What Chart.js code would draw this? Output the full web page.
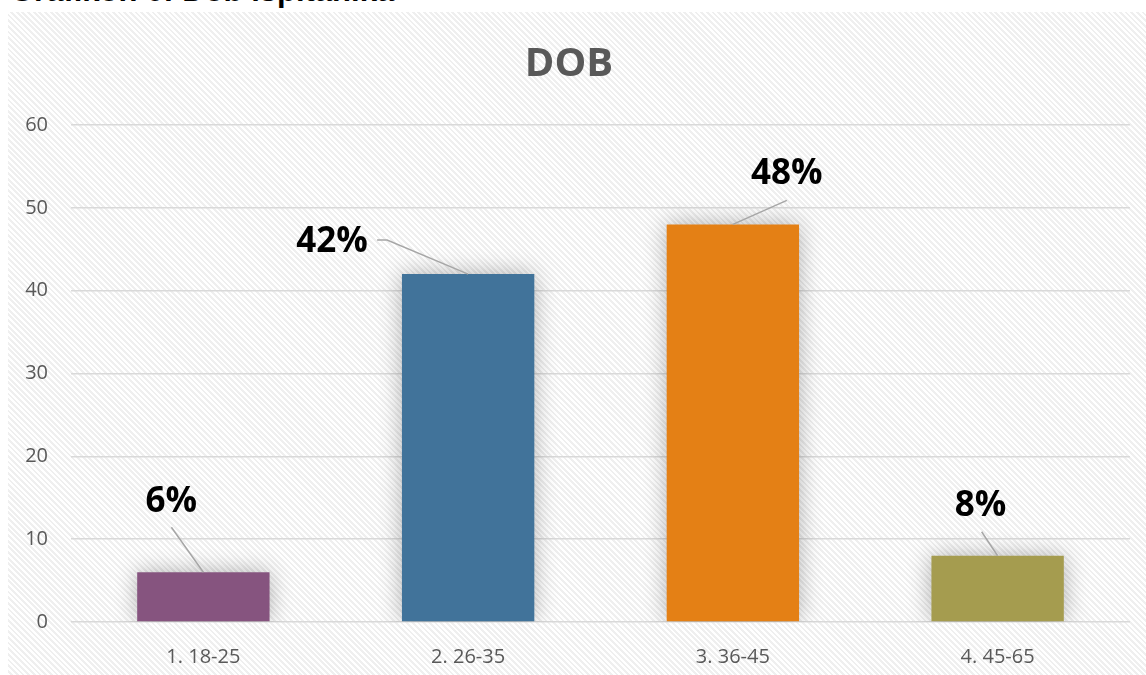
<!DOCTYPE html>
<html>
<head>
<meta charset="utf-8">
<script src="https://cdn.jsdelivr.net/npm/chart.js@4.4.0/dist/chart.umd.min.js"></script>
<style>
    html, body { margin: 0; padding: 0; background: #fff; overflow: hidden; }
    body { width: 1146px; height: 675px; position: relative; }
    #caption {
        position: absolute; left: 10px; top: -25px;
        font: bold 31px "Liberation Sans", Arial, sans-serif;
        line-height: 31px; color: #000; white-space: nowrap;
    }
    #wrap {
        position: absolute; left: 8px; top: 12px; width: 1138px; height: 663px;
        background: repeating-linear-gradient(45deg, #ffffff 0 2px, #efefef 2px 4px);
    }
</style>
</head>
<body>
<div id="caption">Grafikon 6: Dob ispitanika</div>
<div id="wrap"><canvas id="dobChart" width="1138" height="663"></canvas></div>
<script>
const categories = ['1. 18-25', '2. 26-35', '3. 36-45', '4. 45-65'];
const values = [6, 42, 48, 8];
const valueLabels = ['6%', '42%', '48%', '8%'];
const barColors = ['#86547f', '#41739a', '#e48015', '#a59c4f'];
const yTicks = [0, 10, 20, 30, 40, 50, 60];

// where each label sits relative to the top of its bar, with its leader line
const labelSpots = [
    { tx: -32, ty: -70, line: [[-32, -45], [0, 0]] },
    { tx: -136, ty: -32, line: [[-91, -34], [-81, -34], [0, 0]] },
    { tx: 54, ty: -50, line: [[54, -24], [0, 0]] },
    { tx: -17, ty: -50, line: [[-16, -24], [0, 0]] }
];

const barShadow = {
    id: 'barShadow',
    beforeDatasetsDraw(chart) {
        const ctx = chart.ctx;
        ctx.save();
        ctx.shadowColor = 'rgba(0,0,0,0.3)';
        ctx.shadowBlur = 22;
    },
    afterDatasetsDraw(chart) {
        chart.ctx.restore();
    }
};

const calloutLabels = {
    id: 'calloutLabels',
    afterDatasetsDraw(chart) {
        const ctx = chart.ctx;
        const meta = chart.getDatasetMeta(0);
        ctx.save();
        meta.data.forEach((bar, i) => {
            const spot = labelSpots[i];
            ctx.strokeStyle = '#a6a6a6';
            ctx.lineWidth = 1.5;
            ctx.beginPath();
            spot.line.forEach((p, j) => {
                if (j === 0) ctx.moveTo(bar.x + p[0], bar.y + p[1]);
                else ctx.lineTo(bar.x + p[0], bar.y + p[1]);
            });
            ctx.stroke();
            ctx.fillStyle = '#000';
            ctx.font = 'bold 35px "Open Sans", sans-serif';
            ctx.textAlign = 'center';
            ctx.textBaseline = 'middle';
            ctx.fillText(valueLabels[i], bar.x + spot.tx, bar.y + spot.ty);
        });
        ctx.restore();
    }
};

new Chart(document.getElementById('dobChart'), {
    type: 'bar',
    data: {
        labels: categories,
        datasets: [{
            label: 'DOB',
            data: values,
            backgroundColor: barColors,
            borderWidth: 0,
            barPercentage: 0.5,
            categoryPercentage: 1
        }]
    },
    options: {
        responsive: false,
        animation: false,
        layout: { padding: { left: 0, right: 16, top: 0, bottom: 7 } },
        plugins: {
            legend: { display: false },
            tooltip: { enabled: false },
            title: {
                display: true,
                text: 'DOB',
                color: '#595959',
                font: { family: '"Open Sans", sans-serif', size: 40, weight: 'bold' },
                padding: { top: 29, bottom: 36 }
            }
        },
        scales: {
            x: {
                afterFit(scale) { scale.height = 46; },
                grid: { display: false },
                border: { display: false },
                ticks: {
                    color: '#595959',
                    padding: 15,
                    font: { family: '"Open Sans", sans-serif', size: 20 }
                }
            },
            y: {
                min: 0,
                max: 60,
                afterBuildTicks(scale) {
                    scale.ticks = yTicks.map(v => ({ value: v }));
                },
                afterFit(scale) { scale.width = 63; },
                grid: { color: '#d9d9d9', lineWidth: 1.5, drawTicks: false },
                border: { display: false },
                ticks: {
                    color: '#595959',
                    padding: 23,
                    font: { family: '"Open Sans", sans-serif', size: 20 }
                }
            }
        }
    },
    plugins: [barShadow, calloutLabels]
});
</script>
</body>
</html>
